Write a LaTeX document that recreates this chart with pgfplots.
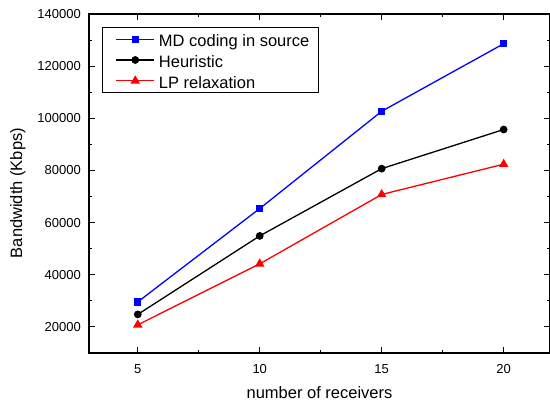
\documentclass[border=0pt]{standalone}
\usepackage{fontspec}
\setmainfont{Liberation Sans}
\usepackage{pgfplots}
\pgfplotsset{compat=1.18}

\begin{document}
\begin{tikzpicture}
\begin{axis}[
  scale only axis,width=461pt,height=339pt,
  xmin=3,xmax=21.9,ymin=10000,ymax=140000,
  scaled x ticks=false,scaled y ticks=false,
  xtick={5,10,15,20},xticklabels={5,10,15,20},
  ytick={20000,40000,60000,80000,100000,120000,140000},
  yticklabels={20000,40000,60000,80000,100000,120000,140000},
  minor xtick={2.5,7.5,12.5,17.5},
  minor ytick={10000,30000,50000,70000,90000,110000,130000},
  tick align=inside,
  major tick length=6pt,minor tick length=3pt,
  every tick/.style={black,line width=0.9pt},
  axis line style={line width=1.1pt},
  yticklabel style={font=\fontsize{13}{15}\selectfont,anchor=east,inner sep=0pt,xshift=-8pt},
  xticklabel style={font=\fontsize{13}{15}\selectfont,anchor=base,inner sep=0pt,yshift=-20pt},
  xlabel={number of receivers},ylabel={Bandwidth (Kbps)},
  label style={font=\fontsize{16.5}{19}\selectfont},
  xlabel style={at={(axis description cs:0.5,0)},anchor=base,inner sep=0pt,yshift=-45pt},
  ylabel style={at={(axis description cs:-0.1453,0.472)},anchor=base,inner sep=0pt},
  legend style={at={(0.0275,0.9625)},anchor=north west,draw=black,line width=0.9pt,
    font=\fontsize{16.5}{19}\selectfont,inner xsep=3.5pt,inner ysep=2pt,row sep=0.8pt,
    nodes={text height=15.5pt,text depth=0.5pt,inner ysep=2pt}},
  legend cell align=left,
  legend image code/.code={\path (0pt,0pt) (50pt,0pt);
    \draw[mark repeat=2,mark phase=2,#1] plot coordinates {(10pt,0pt)(29pt,0pt)(48pt,0pt)};},
]
\addplot[blue,line width=1.3pt,mark=square*,mark size=3pt] coordinates {(5,29600) (10,65400) (15,102700) (20,128600)};
\addlegendentry{MD coding in source\hspace*{4pt}}
\addplot[black,line width=1.3pt,mark=*,mark size=3.2pt] coordinates {(5,24800) (10,54900) (15,80700) (20,95700)};
\addlegendentry{Heuristic}
\addplot[red,line width=1.3pt,mark=triangle*,mark size=4.2pt] coordinates {(5,20800) (10,44200) (15,70800) (20,82400)};
\addlegendentry{LP relaxation}
\end{axis}
\pgfresetboundingbox
\path[use as bounding box] ([shift={(-89pt,-49pt)}]current axis.south west) rectangle ([shift={(0pt,14pt)}]current axis.north east);
\end{tikzpicture}
\end{document}
